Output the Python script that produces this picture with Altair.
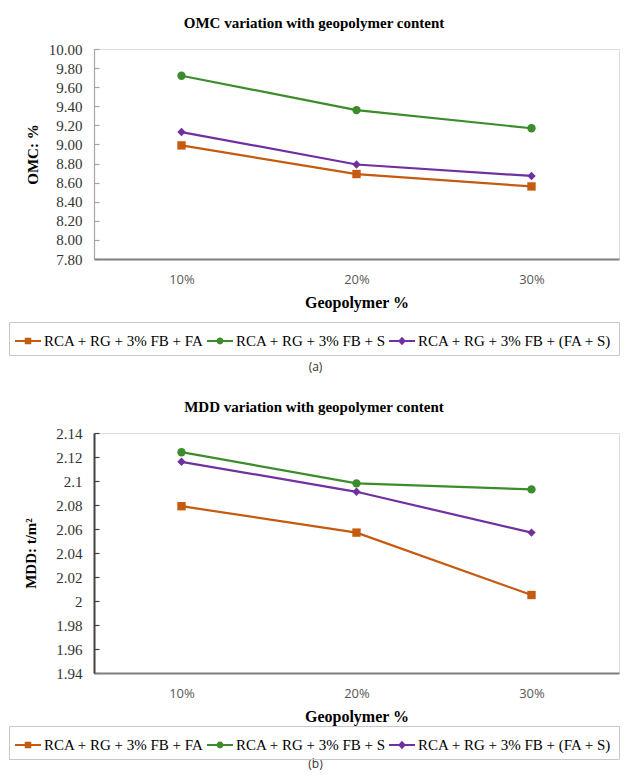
import altair as alt
import pandas as pd

levels = ["10%", "20%", "30%"]
series = ["RCA + RG + 3% FB + FA", "RCA + RG + 3% FB + S", "RCA + RG + 3% FB + (FA + S)"]
omc_fa = [8.99, 8.69, 8.56]
omc_s = [9.72, 9.36, 9.17]
omc_fas = [9.13, 8.79, 8.67]
mdd_fa = [2.079, 2.057, 2.005]
mdd_s = [2.124, 2.098, 2.093]
mdd_fas = [2.116, 2.091, 2.057]
omc_ticks = [7.8, 8.0, 8.2, 8.4, 8.6, 8.8, 9.0, 9.2, 9.4, 9.6, 9.8, 10.0]
mdd_ticks = [1.94, 1.96, 1.98, 2.0, 2.02, 2.04, 2.06, 2.08, 2.1, 2.12, 2.14]
colors = ["#C55A11", "#3B8C2A", "#7030A0"]
shapes = ["square", "circle", "diamond"]
bar = "M-1,-0.08H1V0.08H-1Z "
legend_paths = [
    bar + "M-0.25,-0.25H0.25V0.25H-0.25Z",
    bar + "M0.26,0A0.26,0.26 0 1,1 -0.26,0A0.26,0.26 0 1,1 0.26,0Z",
    bar + "M0,-0.32L0.3,0L0,0.32L-0.3,0Z",
]


def long_df(vals):
    rows = []
    for s, v in zip(series, vals):
        for lv, y in zip(levels, v):
            rows.append({"level": lv, "series": s, "value": y})
    return pd.DataFrame(rows)


def pick(lst):
    expr = "'" + lst[2] + "'"
    for s, p in list(zip(series, lst))[1::-1]:
        expr = "datum.value === '" + s + "' ? '" + p + "' : " + expr
    return expr


SERIF = "Liberation Serif"


def panel(vals, title, ytitle, ticks, fmt, w, h, caption, cap_y, leg_x, leg_y,
          ycol, ywidth, ytitlepad):
    df = long_df(vals)
    legend = alt.Legend(
        title=None, orient="none", legendX=leg_x, legendY=leg_y,
        direction="horizontal", labelFont=SERIF, labelFontSize=15,
        labelColor="#000", labelLimit=0, symbolSize=676, symbolStrokeWidth=0,
        labelOffset=3, columnPadding=3, padding=6, strokeColor="#c8c8c8",
        symbolFillColor={"expr": pick(colors)},
    )
    x = alt.X("level:O", sort=levels, scale=alt.Scale(padding=0.5),
              axis=alt.Axis(title="Geopolymer %", labelAngle=0, ticks=False,
                            domainColor="#7f7f7f", domainWidth=2,
                            labelFont="Open Sans", labelFontSize=13,
                            labelColor="#595959", labelPadding=14,
                            titleFont=SERIF, titleFontSize=16,
                            titleFontWeight="bold", titleColor="#000",
                            titlePadding=8))
    y = alt.Y("value:Q",
              scale=alt.Scale(domain=[ticks[0], ticks[-1]], nice=False, zero=False),
              axis=alt.Axis(title=ytitle, values=ticks, format=fmt, ticks=False,
                            grid=True, gridDash=[5, 2000], gridColor=ycol,
                            gridWidth=1.2, domainColor=ycol, domainWidth=ywidth,
                            labelFont=SERIF, labelFontSize=15, labelColor="#333",
                            labelPadding=12, titleFont=SERIF,
                            titleFontSize=15, titleFontWeight="bold",
                            titleColor="#000", titlePadding=ytitlepad))
    cscale = alt.Scale(domain=series, range=colors)
    lines = alt.Chart(df).mark_line(strokeWidth=2.2).encode(
        x=x, y=y, color=alt.Color("series:N", scale=cscale, legend=None))
    pts = alt.Chart(df).mark_point(filled=True, opacity=1, size=70).encode(
        x=x, y=y, color=alt.Color("series:N", scale=cscale, legend=None),
        shape=alt.Shape("series:N", scale=alt.Scale(domain=series, range=shapes),
                        legend=None))
    leg = alt.Chart(df).transform_filter("false").mark_point(
        filled=True, opacity=1).encode(
        x=x, y=y, color=alt.Color("series:N", scale=cscale, legend=legend),
        shape=alt.Shape("series:N",
                        scale=alt.Scale(domain=series, range=legend_paths),
                        legend=legend))
    cap = alt.Chart(pd.DataFrame({"t": [caption]})).mark_text(
        font="Open Sans", fontSize=12, color="#333").encode(
        text="t:N", x=alt.value(w / 2 - 41), y=alt.value(cap_y))
    return alt.layer(lines, pts, leg, cap).resolve_scale(shape="independent").properties(
        width=w, height=h,
        title=alt.TitleParams(title, font=SERIF, fontSize=15, fontWeight="bold",
                              color="#000", frame="bounds", offset=11),
    )


top = panel([omc_fa, omc_s, omc_fas], "OMC variation with geopolymer content",
            "OMC: %", omc_ticks, ".2f", 525, 210, "(a)", 318, -85, 273,
            "#a6a6a6", 1.2, 8)
bottom = panel([mdd_fa, mdd_s, mdd_fas], "MDD variation with geopolymer content",
               "MDD: t/m\u00b2", mdd_ticks, "~g", 525, 240, "(b)", 331, -85, 293,
               "#404040", 2, 17)

chart = alt.vconcat(top, bottom, spacing=25).resolve_scale(
    color="independent", shape="independent").resolve_legend(
    color="independent", shape="independent").properties(
    padding={"top": 7, "left": 0, "right": 0, "bottom": 0}).configure_view(
    strokeWidth=0).configure(background="white")

chart.save("out.html", embed_options={"renderer": "svg", "actions": False})
